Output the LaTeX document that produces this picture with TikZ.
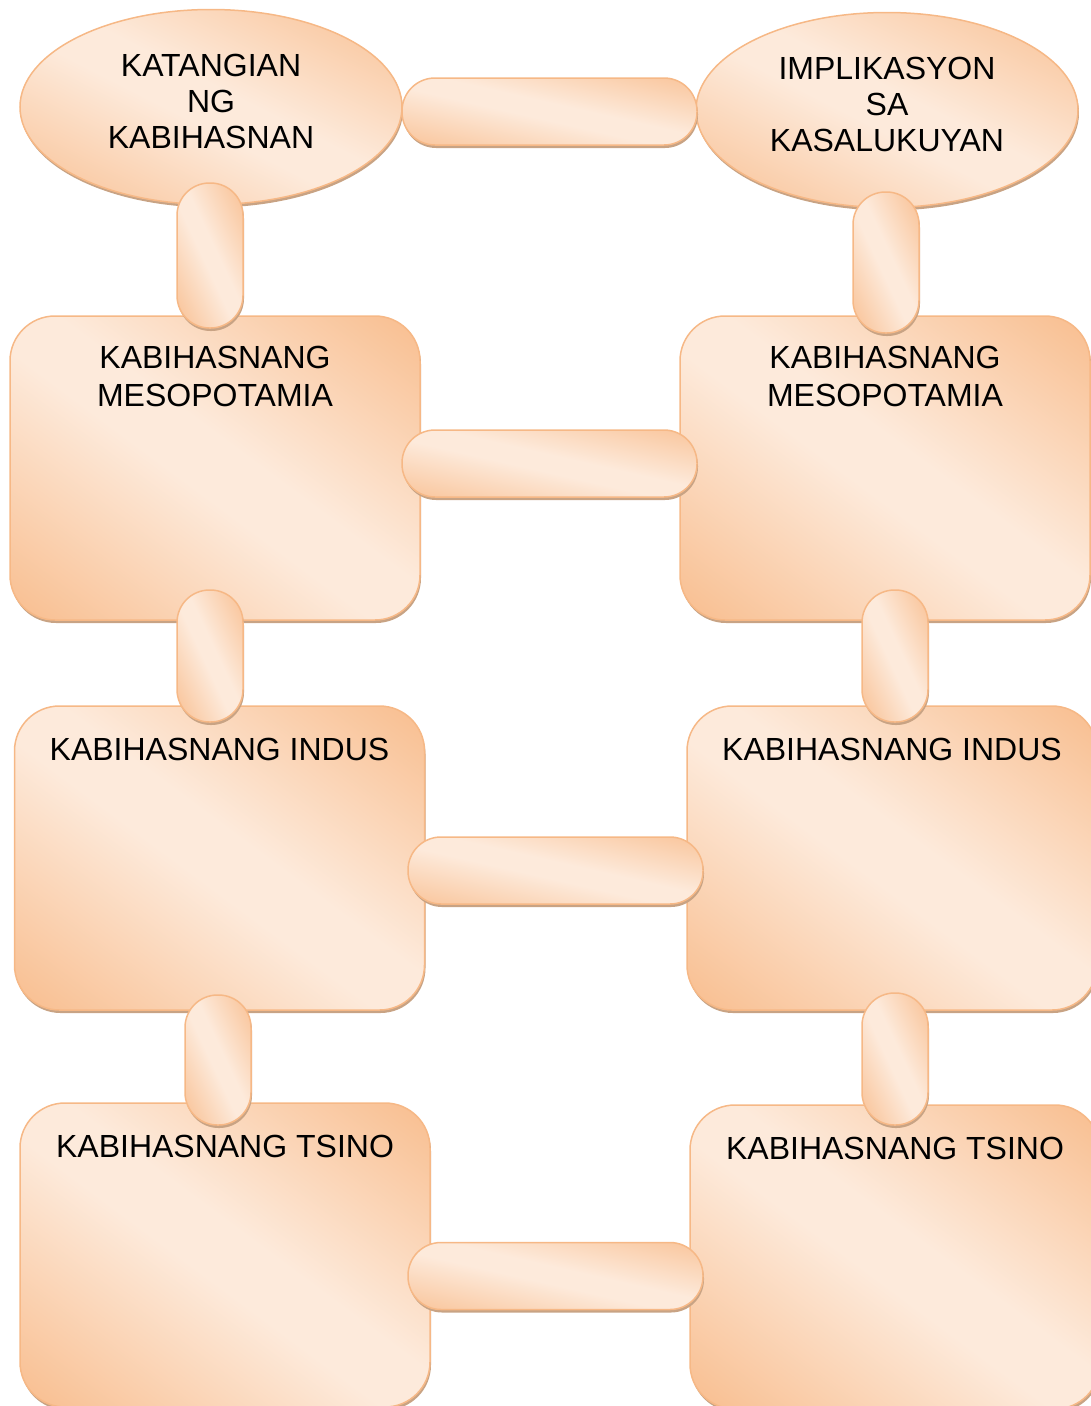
\documentclass[tikz,border=0pt]{standalone}
\usepackage{fontspec}
\setmainfont{Liberation Sans}
\usetikzlibrary{shapes.geometric,shadows}
\definecolor{pdark}{RGB}{248,188,140}
\definecolor{plight}{RGB}{253,234,219}
\definecolor{pborder}{RGB}{246,184,134}
\definecolor{pshadow}{RGB}{200,163,132}
\pgfdeclareverticalshading{peachsh}{100bp}{color(0bp)=(pdark); color(14bp)=(pdark);
  color(46bp)=(plight); color(54bp)=(plight); color(86bp)=(pdark); color(100bp)=(pdark)}
\tikzset{
  peach/.style={draw=pborder, line width=1.5pt, shade, shading=peachsh, shading angle=#1,
    drop shadow={shadow xshift=1pt, shadow yshift=-3pt, fill=pshadow, opacity=1},
    inner sep=0pt},
  oval/.style={peach=153, ellipse, minimum width=382pt, minimum height=195pt},
  card/.style={peach=143.4, rectangle, rounded corners=45pt, minimum width=410pt, minimum height=304pt},
  hpill/.style={peach=167.2, rectangle, rounded corners=33pt, minimum width=295pt, minimum height=67pt},
  vpill/.style={peach=115.2, rectangle, rounded corners=32.5pt, minimum width=66pt},
  ovaltxt/.style={font=\fontsize{32}{36}\selectfont, align=center, inner sep=0pt, text=black, anchor=center, yshift=6pt},
  cardtxt/.style={font=\fontsize{32}{38}\selectfont, align=center, inner sep=0pt, text=black, anchor=north, yshift=-31pt},
}
\begin{document}
\begin{tikzpicture}[x=1pt,y=-1pt]
\useasboundingbox (0,0) rectangle (1091,1406);
\clip (0,0) rectangle (1091,1406);
% main shapes
\node[oval, label={[ovaltxt]center:{KATANGIAN\\NG\\KABIHASNAN}}] (ovL) at (211,107) {};
\node[oval, label={[ovaltxt]center:{IMPLIKASYON\\SA\\KASALUKUYAN}}] (ovR) at (887,110) {};
\node[card, label={[cardtxt]north:{KABIHASNANG\\MESOPOTAMIA}}] (mL) at (215,468) {};
\node[card, label={[cardtxt]north:{KABIHASNANG\\MESOPOTAMIA}}] (mR) at (885,468) {};
\node[card, label={[cardtxt, yshift=-1.5pt]north:{KABIHASNANG INDUS}}] (iL) at (219.5,858) {};
\node[card, label={[cardtxt, yshift=-1.5pt]north:{KABIHASNANG INDUS}}] (iR) at (892,858) {};
\node[card, label={[cardtxt, yshift=-1.5pt]north:{KABIHASNANG TSINO}}] (tL) at (225,1255) {};
\node[card, label={[cardtxt, yshift=-1.5pt]north:{KABIHASNANG TSINO}}] (tR) at (895,1257) {};
% horizontal links
\node[hpill] (h0) at (549.5,111.5) {};
\node[hpill] (h1) at (549.5,463.5) {};
\node[hpill] (h2) at (555.5,870.5) {};
\node[hpill] (h3) at (555.5,1276) {};
% vertical links
\node[vpill, minimum height=145pt] (vL0) at (210,255.5) {};
\node[vpill, minimum height=141pt] (vR0) at (886,262.5) {};
\node[vpill, minimum height=132pt] (vL1) at (210,656) {};
\node[vpill, minimum height=132pt] (vR1) at (895,656) {};
\node[vpill, minimum height=130pt] (vL2) at (218,1060) {};
\node[vpill, minimum height=132pt] (vR2) at (895,1059) {};
\end{tikzpicture}
\end{document}
